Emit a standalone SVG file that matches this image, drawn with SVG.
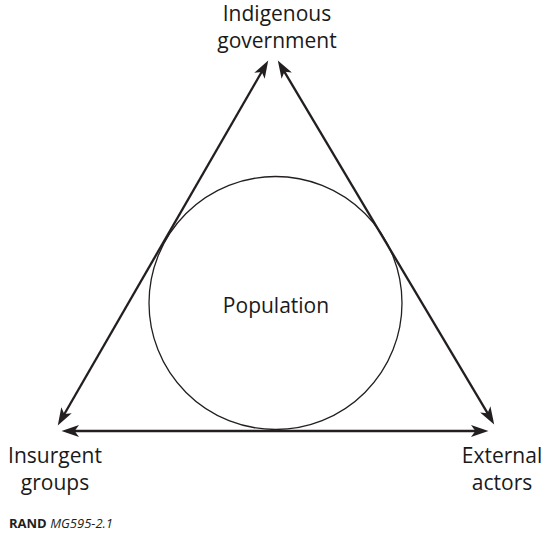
<svg xmlns="http://www.w3.org/2000/svg" width="544" height="535" viewBox="0 0 544 535">
<style>
.lbl{font-family:"Open Sans","Noto Sans","Liberation Sans",sans-serif;font-size:21px;fill:#1a1a1a;text-anchor:middle}
.con{stroke:#231f20;stroke-width:2.3;fill:none;marker-start:url(#ah);marker-end:url(#ah)}
.cap{font-family:"Open Sans","Noto Sans","Liberation Sans",sans-serif;font-size:13px;fill:#231f20}
</style>
<defs>
<marker id="ah" markerUnits="userSpaceOnUse" markerWidth="18" markerHeight="12" refX="11" refY="5.5" orient="auto-start-reverse" viewBox="0 0 16 11">
<path d="M0,0 L16,5.5 L0,11 L4,5.5 z" fill="#231f20"/>
</marker>
</defs>
<rect width="544" height="535" fill="#fff"/>
<g id="population">
<circle cx="275.5" cy="303" r="126.5" fill="none" stroke="#231f20" stroke-width="1.3"/>
<text class="lbl" x="276" y="313">Population</text>
</g>
<g id="connectors">
<line class="con" x1="265.5" y1="65.3" x2="60.5" y2="420.7"/>
<line class="con" x1="280.6" y1="65.3" x2="491.4" y2="419.7"/>
<line class="con" x1="67" y1="431" x2="483" y2="431"/>
</g>
<g id="indigenous-government">
<text class="lbl" x="277" y="21">Indigenous</text>
<text class="lbl" x="277" y="48">government</text>
</g>
<g id="insurgent-groups">
<text class="lbl" x="55" y="463">Insurgent</text>
<text class="lbl" x="55" y="490">groups</text>
</g>
<g id="external-actors">
<text class="lbl" x="502" y="463">External</text>
<text class="lbl" x="502" y="490">actors</text>
</g>
<text class="cap" x="9" y="528"><tspan font-weight="bold">RAND</tspan> <tspan font-style="italic">MG595-2.1</tspan></text>
</svg>
